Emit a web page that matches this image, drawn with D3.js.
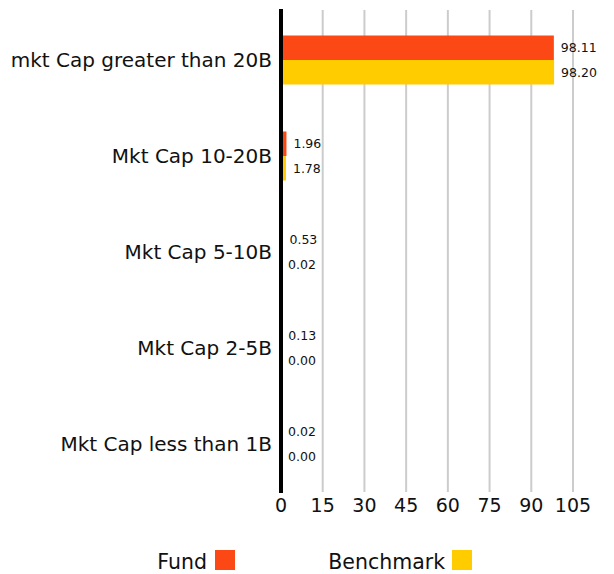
<!DOCTYPE html>
<html>
<head>
<meta charset="utf-8">
<script src="https://cdn.jsdelivr.net/npm/d3@7"></script>
<style>
  body { margin: 0; background: #fff; }
  text { font-family: "DejaVu Sans", sans-serif; fill: #111; }
</style>
</head>
<body>
<div id="chart"></div>
<script>
var categories = ["mkt Cap greater than 20B", "Mkt Cap 10-20B", "Mkt Cap 5-10B", "Mkt Cap 2-5B", "Mkt Cap less than 1B"];
var fundValues = [98.11, 1.96, 0.53, 0.13, 0.02];
var benchValues = [98.20, 1.78, 0.02, 0.00, 0.00];
var seriesNames = ["Fund", "Benchmark"];
var seriesColors = ["#fc4814", "#ffcc00"];
var xTicks = [0, 15, 30, 45, 60, 75, 90, 105];

var svgWidth = 614;
var svgHeight = 574;

var svg = d3.select("#chart")
    .append("svg")
    .attr("width", svgWidth)
    .attr("height", svgHeight);

var x = d3.scaleLinear().domain([0, 105]).range([281, 573]);
var y = d3.scaleBand().domain(categories).range([12, 492]);
var inner = d3.scaleBand().domain(seriesNames).range([0, 49]);

// gridlines
svg.append("g")
  .selectAll("line")
  .data(xTicks.slice(1))
  .enter()
  .append("line")
  .attr("x1", d => x(d))
  .attr("x2", d => x(d))
  .attr("y1", 10)
  .attr("y2", 492)
  .attr("stroke", "#cccccc")
  .attr("stroke-width", 2);

var rows = categories.map(function(c, i) {
  return {cat: c, vals: [fundValues[i], benchValues[i]]};
});

var group = svg.selectAll("g.row")
  .data(rows)
  .enter()
  .append("g")
  .attr("class", "row")
  .attr("transform", d => `translate(0,${y(d.cat) + y.bandwidth() / 2 - 24.5})`);

group.selectAll("rect")
  .data(d => d.vals.map((v, j) => ({v: v, s: seriesNames[j], c: seriesColors[j]})))
  .enter()
  .append("rect")
  .attr("x", x(0))
  .attr("y", d => inner(d.s))
  .attr("width", d => x(d.v) - x(0))
  .attr("height", inner.bandwidth())
  .attr("fill", d => d.c);

group.selectAll("text.val")
  .data(d => d.vals.map((v, j) => ({v: v, s: seriesNames[j]})))
  .enter()
  .append("text")
  .attr("class", "val")
  .attr("x", d => x(d.v) + 7)
  .attr("y", d => inner(d.s) + inner.bandwidth() / 2)
  .attr("dy", "0.35em")
  .style("font-size", "12.5px")
  .text(d => d.v.toFixed(2));

// category labels
svg.append("g")
  .selectAll("text")
  .data(categories)
  .enter()
  .append("text")
  .attr("x", 272)
  .attr("y", d => y(d) + y.bandwidth() / 2)
  .attr("dy", "0.35em")
  .attr("text-anchor", "end")
  .style("font-size", "20px")
  .text(d => d);

// axis line
svg.append("line")
  .attr("x1", x(0))
  .attr("x2", x(0))
  .attr("y1", 9)
  .attr("y2", 493)
  .attr("stroke", "#000")
  .attr("stroke-width", 4);

// x tick labels
svg.append("g")
  .selectAll("text")
  .data(xTicks)
  .enter()
  .append("text")
  .attr("x", d => x(d))
  .attr("y", 512)
  .attr("text-anchor", "middle")
  .style("font-size", "19px")
  .text(d => d);

// legend
var legend = [
  {name: "Fund", tx: 207, sx: 215},
  {name: "Benchmark", tx: 445, sx: 452}
];
legend.forEach(function(l, i) {
  svg.append("text")
    .attr("x", l.tx)
    .attr("y", 569)
    .attr("text-anchor", "end")
    .style("font-size", "20.5px")
    .text(l.name);
  svg.append("rect")
    .attr("x", l.sx)
    .attr("y", 550)
    .attr("width", 20)
    .attr("height", 20)
    .attr("fill", seriesColors[i]);
});
</script>
</body>
</html>
